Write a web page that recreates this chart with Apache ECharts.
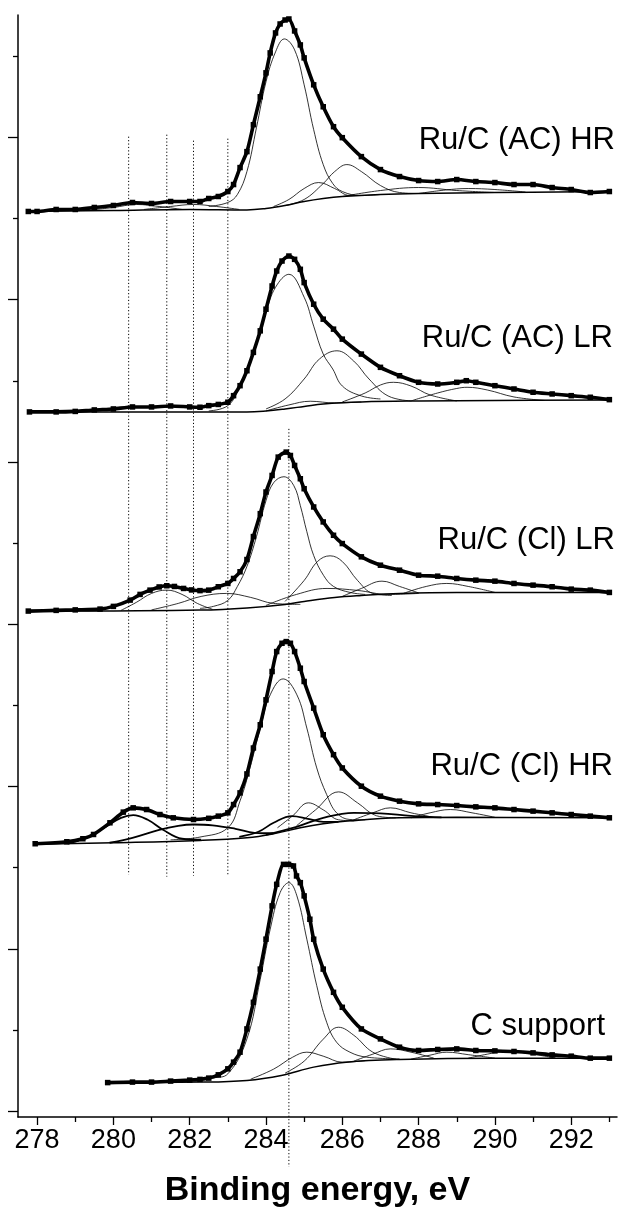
<!DOCTYPE html>
<html><head><meta charset="utf-8">
<script src="https://cdn.jsdelivr.net/npm/echarts@6/dist/echarts.min.js"></script>
<style>html,body{margin:0;padding:0;background:#fff}#c{width:619px;height:1213px}</style>
</head><body><div id="c"></div><script>
// ---- axes ----
const xMajorTicks = [278,280,282,284,286,288,290,292];
const xMinorTicks = [279,281,283,285,287,289,291,293];
const yMajorTicks = [0,162.7,325.4,488.1,650.8,813.5,976.2];
const yMinorTicks = [81.35,244.05,406.75,569.45,732.15,894.85,1057.55];
const panelLabels = ['Ru/C (AC) HR','Ru/C (AC) LR','Ru/C (Cl) LR','Ru/C (Cl) HR','C support'];
const xTitle = 'Binding energy, eV';

// ---- panel 1 : Ru/C (AC) HR ----
const p1Data = [[277.77,902],[278,902],[278.5,904],[279,904],[279.5,906],[280,908],[280.5,911],[281,910],[281.5,912],[282,912],[282.27,912],[282.5,915],[282.75,917],[283,922],[283.15,929],[283.32,946],[283.5,962],[283.67,989],[283.85,1017],[284,1041],[284.11,1061],[284.25,1081],[284.37,1090],[284.5,1094],[284.6,1095],[284.75,1083],[284.9,1069],[285,1056],[285.25,1029],[285.5,1007],[285.77,987],[286,976],[286.5,957],[287,944],[287.5,937],[288,933],[288.5,932],[289,934],[289.5,932],[290,931],[290.5,929],[291,929],[291.5,926],[292,924],[292.5,921],[293,922]];
const p1Base = [[277.77,902],[280,903],[282,904],[283.5,903.5],[284,905],[284.5,908],[285,912],[285.5,915],[286,917],[287,919],[288,920],[290,921],[293,922]];
const p1Main = [[282.5,907],[283,911],[283.25,919],[283.5,942],[283.75,986],[284,1032],[284.25,1062],[284.48,1075],[284.75,1064],[285,1029],[285.25,984],[285.5,949],[285.75,930],[286,922],[286.5,918],[287,919]];
const p1C2 = [[284.2,907],[284.6,914],[285,925],[285.38,931],[285.8,925],[286.2,918],[286.6,918]];
const p1C3 = [[284.5,908],[285,914],[285.5,930],[285.8,942],[286.12,949],[286.5,942],[287,928],[287.5,921],[288,920]];
const p1C4 = [[286,917],[287,923],[288,926],[289,923],[290,921]];
const p1C5 = [[288,920],[288.7,923.5],[289.3,925],[290,924],[290.8,921.5]];
const p1L1 = [[279.3,903],[280,906],[280.6,909],[281.2,907],[281.8,904]];
const p1L2 = [[280.8,904],[281.5,907],[282.1,909],[282.7,907],[283.3,904]];

// ---- panel 2 : Ru/C (AC) LR ----
const p2Data = [[277.8,701],[278.5,701],[279,701.5],[279.5,703],[280,704],[280.5,706],[281,706],[281.5,707],[282,706],[282.27,705.7],[282.5,707.3],[282.75,708.5],[283,710.7],[283.15,717.3],[283.32,727.3],[283.5,742.3],[283.67,760.7],[283.85,782.3],[284,804],[284.16,827.3],[284.28,842.3],[284.42,852.3],[284.6,857.3],[284.75,854],[284.9,844],[285,830.7],[285.25,809],[285.5,794],[285.77,784],[286,774],[286.5,759],[287,745.7],[287.5,737.3],[288,730.7],[288.5,729],[289,730.7],[289.25,732.3],[289.5,730.7],[290,727.3],[290.5,724],[291,720.7],[291.5,719],[292,717.3],[292.5,715.7],[293,713.3]];
const p2Base = [[277.8,701],[282,701],[283.5,701],[284,702],[284.5,704],[285,706.5],[285.5,709],[286.5,711],[288,712],[290,712.5],[293,713]];
const p2Main = [[282.5,702],[283,707.3],[283.32,727],[283.67,761],[284,801],[284.25,826],[284.6,839],[285,816],[285.25,787],[285.5,759],[285.75,744],[286,727],[286.5,717],[287,714]];
const p2C2 = [[284,704],[284.5,714],[285,734],[285.4,754],[285.86,762.3],[286.3,752],[286.7,734],[287.2,717],[287.8,712]];
const p2C3 = [[286,711],[286.6,720],[287,728],[287.34,730.7],[287.8,727],[288.3,718],[289,712]];
const p2C4 = [[287.8,712],[288.5,720],[289,724.5],[289.27,725.7],[289.8,723],[290.5,716],[291.3,712.5]];
const p2C5 = [[284,702],[284.6,708],[285.16,711.7],[285.8,710],[286.5,711]];

// ---- panel 3 : Ru/C (Cl) LR ----
const p3Data = [[277.77,501.3],[278.5,502],[279,502.5],[279.65,503.3],[280,506],[280.44,512.3],[280.7,518],[280.96,522.3],[281.2,525.5],[281.4,526.7],[281.6,526],[281.84,524],[282.05,522.5],[282.27,521.8],[282.5,522.3],[282.75,525.7],[283,529],[283.15,534],[283.32,540.7],[283.5,553],[283.67,576],[283.85,599],[284,620.7],[284.16,637.3],[284.32,655.7],[284.53,660.7],[284.64,657.3],[284.75,647.3],[284.9,634],[285,624],[285.25,605.7],[285.5,590.7],[285.77,577.3],[286,569],[286.5,555.7],[287,547.3],[287.5,542.3],[288,537.3],[288.5,536.3],[289,534],[289.5,532.3],[290,531.3],[290.5,529],[291,527.3],[291.5,525.7],[292,523.3],[292.5,522.3],[293,520]];
const p3Base = [[277.77,501.3],[280,501.5],[282.27,502.3],[283.5,504.5],[284.5,508],[285,511],[285.8,515],[286.5,517],[287.5,519],[289,520],[293,520]];
const p3Main = [[282.27,504],[282.62,506],[283,512],[283.25,526],[283.5,546],[283.75,576],[284,612],[284.2,630],[284.47,636],[284.73,627],[284.9,607],[285.07,581],[285.25,557],[285.51,537],[285.77,526],[286.2,520],[286.6,518]];
const p3C2 = [[284.5,511],[285,532],[285.35,551],[285.68,556.7],[286,551],[286.4,532],[286.8,519],[287.3,517]];
const p3C3 = [[286,516],[286.5,524],[287.04,531.3],[287.5,526],[288,519.5]];
const p3C4 = [[287.6,519],[288.2,526],[288.74,529],[289.3,526],[290,520]];
const p3C5 = [[284,507],[284.8,518],[285.6,524],[286.4,522],[287.2,518],[288,519]];
const p3L1 = [[280.2,502],[280.6,510],[281,519],[281.4,522.3],[281.8,518],[282.2,509],[282.6,503]];
const p3L2 = [[281,502.5],[281.7,509],[282.3,516],[282.97,519],[283.6,515],[284.2,509],[284.9,508]];

// ---- panel 4 : Ru/C (Cl) HR ----
const p4Data = [[277.95,268],[278.78,270],[279.2,273],[279.48,277.3],[279.91,289],[280.26,299.7],[280.52,304],[280.87,302.3],[281.22,297.3],[281.57,294],[282.1,292.3],[282.5,293.5],[282.75,295.7],[283,299],[283.15,307.3],[283.32,319],[283.5,338],[283.67,364],[283.85,387.3],[284,412.3],[284.16,440.7],[284.28,460.7],[284.42,469],[284.53,470.7],[284.64,469],[284.75,460.7],[284.9,444],[285,430.7],[285.25,404],[285.5,377.3],[285.77,357.3],[286,344],[286.5,325.7],[287,315.7],[287.5,310.7],[288,308],[288.5,307.3],[289,306.3],[289.5,305],[290,304],[290.5,302.3],[291,300.7],[291.5,299],[292,297.3],[292.5,295.7],[293,294]];
const p4Base = [[277.95,267.5],[280,269],[282.27,271.3],[283.5,274],[284.2,278],[284.9,284],[285.5,288],[286.2,291],[287.5,294],[289,294.5],[293,294]];
const p4Main = [[281.5,272],[282.27,274.7],[283,284],[283.32,311],[283.58,344],[283.85,384],[284.11,417.3],[284.45,433.3],[284.81,417.3],[285.07,384],[285.33,344],[285.59,317.3],[285.85,299],[286.2,292.3],[286.6,292]];
const p4L1 = [[278.8,268],[279.3,274],[279.8,285],[280.2,294],[280.52,296.7],[280.9,292],[281.3,282],[281.8,273],[282.3,272]];
const p4L2 = [[279.9,269],[280.5,274],[281.2,282],[281.7,286],[282.1,287.3],[282.6,286.5],[283.2,283],[283.7,279],[284.2,278.5]];
const p4L3 = [[283.3,275],[283.8,280],[284.2,289],[284.68,295.7],[285.1,293],[285.5,290],[285.9,290]];
const p4L4 = [[284,277],[284.8,285],[285.5,294],[286.3,299],[287,298.5],[287.8,296],[288.6,294.5]];
const p4C2 = [[284.3,284],[284.7,296],[285.11,309],[285.5,302],[285.9,292],[286.3,291]];
const p4C3 = [[284.8,286],[285.3,302],[285.9,320],[286.4,309],[286.9,296],[287.4,294]];
const p4C4 = [[286.3,292],[286.8,299],[287.26,304],[287.8,299],[288.4,294.5]];
const p4C5 = [[287.8,294],[288.3,299],[288.83,302.3],[289.4,299],[290,294.5]];

// ---- panel 5 : C support ----
const p5Data = [[279.85,28.5],[280.5,29],[281,29],[281.5,30],[282,31],[282.27,31.7],[282.5,33],[282.75,36.3],[283,42.3],[283.15,49],[283.32,59],[283.5,82.3],[283.67,109],[283.85,142.3],[284,172.3],[284.16,205.7],[284.28,227.3],[284.46,247.3],[284.59,247.3],[284.72,245.7],[284.8,235.7],[284.9,229],[285,215.7],[285.15,192.3],[285.25,172.3],[285.5,142.3],[285.77,119],[286,104],[286.5,82.3],[287,72.3],[287.5,64],[288,60.7],[288.5,61.7],[289,62.3],[289.5,60.7],[290,60.3],[290.5,59.7],[291,58.3],[291.5,56.3],[292,55],[292.5,53],[293,53]];
const p5Base = [[279.85,28.5],[282.27,29],[283.5,30.7],[284.4,35.7],[285.25,44],[286.1,49],[287.5,51.7],[290,53],[293,53]];
const p5Main = [[280.5,29],[282.27,31],[282.6,33],[283,37.3],[283.5,72.3],[283.85,132.3],[284.11,182.3],[284.37,219],[284.6,229],[284.81,215.7],[285.07,172.3],[285.33,125.7],[285.59,89],[285.85,69],[286.2,59],[286.64,54],[287.5,52.3]];
const p5C2 = [[283.6,32],[284.2,42],[284.7,54],[285.07,59],[285.5,55],[286,49],[286.6,50.5]];
const p5C3 = [[284.5,38],[285,50],[285.5,72],[285.9,84],[286.3,76],[286.8,59],[287.4,52]];
const p5C4 = [[286.3,50],[286.8,57],[287.26,62.3],[287.8,59],[288.4,53]];
const p5C5 = [[287.8,52],[288.3,56],[288.74,59],[289.3,56.5],[290,53]];
const p5C6 = [[289.3,53],[289.8,57],[290.3,60],[290.9,57.5],[291.6,53]];

// ---- reference dotted lines ----
const dotX = [280.4, 281.4, 282.1, 283.0, 284.6];
const dotTop = [977, 979, 973, 975, 684];
const dotBottom = [237, 235, 236, 237, -56];

// ---- build ----
const FONT = '"Liberation Sans", Arial, sans-serif';
const panels = [
  {data:p1Data, base:p1Base, thin:[p1Main,p1C2,p1C3,p1C4,p1C5,p1L1,p1L2], thick:[]},
  {data:p2Data, base:p2Base, thin:[p2Main,p2C2,p2C3,p2C4,p2C5], thick:[]},
  {data:p3Data, base:p3Base, thin:[p3Main,p3C2,p3C3,p3C4,p3C5,p3L1,p3L2], thick:[]},
  {data:p4Data, base:p4Base, thin:[p4Main,p4C2,p4C3,p4C4,p4C5], thick:[p4L1,p4L2,p4L3,p4L4]},
  {data:p5Data, base:p5Base, thin:[p5Main,p5C2,p5C3,p5C4,p5C5,p5C6], thick:[]}
];
function comp(d, w){
  return {type:'line', data:d, symbol:'none', smooth:0.4, silent:true,
    lineStyle:{color:'#000', width:w}, z:2};
}
function meas(d){
  return {type:'line', data:d, symbol:'rect', symbolSize:5.5, showAllSymbol:true, smooth:0.25, silent:true,
    itemStyle:{color:'#000'}, lineStyle:{color:'#000', width:3.6}, z:4};
}
const series = [];
panels.forEach(p => {
  p.thin.forEach(c => series.push(comp(c, 0.8)));
  p.thick.forEach(c => series.push(comp(c, 1.8)));
  series.push(comp(p.base, 1.5));
  series.push(meas(p.data));
});
dotX.forEach((x, i) => {
  series.push({type:'line', data:[[x, dotTop[i]], [x, dotBottom[i]]], symbol:'none', clip:false, silent:true,
    lineStyle:{color:'#000', width:1, type:[1.2, 2.2]}, z:1});
});

const labelPos = [{right:4, top:125},{right:6, top:323},{right:4, top:525},{right:6, top:751},{right:14, top:1011}];
const graphic = panelLabels.map((t, i) => ({
  type:'text', right:labelPos[i].right, top:labelPos[i].top,
  style:{text:t, fontSize:31, fontFamily:FONT, fill:'#000'}
}));

const chart = echarts.init(document.getElementById('c'), null, {renderer:'canvas'});
chart.setOption({
  animation:false,
  backgroundColor:'#fff',
  textStyle:{fontFamily:FONT},
  grid:{left:18, right:2, top:15, bottom:93},
  xAxis:[
    {type:'value', min:277.5, max:293.2, position:'bottom',
     name:xTitle, nameLocation:'middle', nameGap:57,
     nameTextStyle:{fontSize:34, fontWeight:'bold', color:'#000', fontFamily:FONT},
     axisLine:{show:true, onZero:false, lineStyle:{color:'#000', width:1.5}},
     axisTick:{show:true, customValues:xMajorTicks, length:8, lineStyle:{color:'#000', width:1.3}},
     axisLabel:{show:true, customValues:xMajorTicks, fontSize:27, color:'#000', margin:10, fontFamily:FONT},
     splitLine:{show:false}},
    {type:'value', min:277.5, max:293.2, position:'bottom',
     axisLine:{show:false, onZero:false},
     axisTick:{show:true, customValues:xMinorTicks, length:5, lineStyle:{color:'#000', width:1.3}},
     axisLabel:{show:false}, splitLine:{show:false}}
  ],
  yAxis:[
    {type:'value', min:-6, max:1099, position:'left',
     axisLine:{show:true, onZero:false, lineStyle:{color:'#000', width:1.5}},
     axisTick:{show:true, customValues:yMajorTicks, length:10, lineStyle:{color:'#000', width:1.3}},
     axisLabel:{show:false}, splitLine:{show:false}},
    {type:'value', min:-6, max:1099, position:'left',
     axisLine:{show:false, onZero:false},
     axisTick:{show:true, customValues:yMinorTicks, length:5, lineStyle:{color:'#000', width:1.3}},
     axisLabel:{show:false}, splitLine:{show:false}}
  ],
  graphic:graphic,
  series:series
});
</script></body></html>
